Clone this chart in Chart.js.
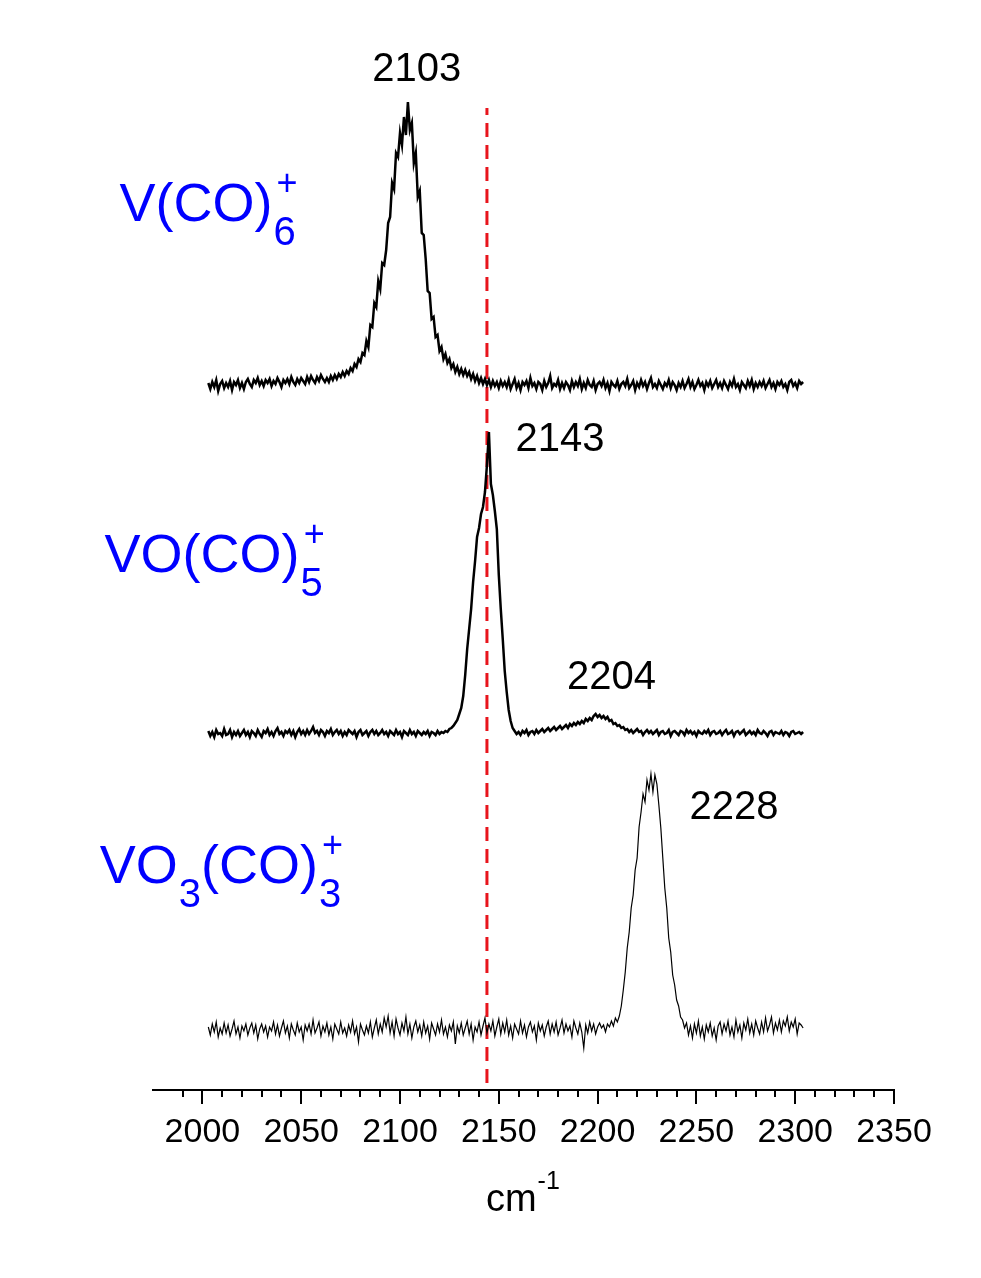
<!DOCTYPE html>
<html>
<head>
<meta charset="utf-8">
<title>IR spectra of vanadium carbonyl cations</title>
<script src="https://cdn.jsdelivr.net/npm/chart.js@4.4.0/dist/chart.umd.min.js"></script>
<style>
  html, body { margin: 0; padding: 0; background: #fff; }
  #wrap { width: 981px; height: 1278px; position: relative; }
</style>
</head>
<body>
<div id="wrap"><canvas id="irChart"></canvas></div>
<script>
// spectra are sampled every 1 cm-1, first point at 2003 cm-1
const startWavenumber = 2003;

// V(CO)6+
const v6Intensity = [
  2, -4, 3, -2, 5, -6, 1, 4, -3, 2,
  -2, 4, -5, 3, 0, 5, -3, 2, -4, 3,
  6, 1, -2, 5, 2, 7, 0, 4, -1, 5,
  2, 6, -1, 4, 1, 7, 3, -2, 5, 2,
  6, 1, 8, 3, 0, 6, 2, 7, 4, 1,
  8, 3, 9, 5, 2, 8, 4, 10, 6, 3,
  7, 3, 9, 5, 10, 6, 11, 8, 13, 9,
  14, 11, 17, 14, 21, 18, 26, 23, 32, 30,
  44, 38, 60, 58, 82, 78, 104, 96, 122, 120,
  135, 162, 168, 202, 196, 232, 228, 252, 240, 268,
  250, 283, 255, 262, 222, 232, 188, 194, 152, 150,
  126, 94, 92, 66, 68, 48, 50, 34, 38, 26,
  31, 22, 26, 17, 21, 13, 18, 11, 16, 10,
  15, 9, 13, 6, 11, 4, 9, 2, 7, 1,
  6, 0, 5, -2, 4, -1, 3, -3, 4, -1,
  3, -2, 5, -4, 1, 6, -3, 2, -5, 3,
  0, 4, -3, 7, -1, 2, -4, 3, 1, -5,
  4, -2, 2, 9, -3, 1, -1, 5, -4, 2,
  -3, 3, 0, -5, 4, -2, 3, -1, 6, -4,
  2, -3, 5, 0, -2, 4, -5, 1, 3, -1,
  5, -3, 2, -6, 3, 0, -2, 4, -4, 1,
  3, -1, 6, -3, 0, 4, -5, 2, -2, 5,
  -1, 3, -4, 2, 7, -2, 1, -3, 4, 0,
  -4, 2, -1, 5, -3, 3, 0, -5, 2, -2,
  4, -3, 1, 6, -2, 3, -4, 0, 5, -1,
  2, -5, 3, -1, 4, -3, 1, 5, -2, 2,
  -3, 4, 0, -4, 3, -1, 6, -2, 1, -5,
  3, 0, -3, 4, -1, 5, -4, 2, -2, 3,
  -1, 4, -3, 1, 5, -2, 2, -4, 3, 0,
  4, -2, 1, -5, 3, 5, -1, 2, -3, 4,
  1, 3
];

// VO(CO)5+
const vo5Intensity = [
  2, -3, 1, -4, 3, -1, 0, -3, 4, -2,
  -1, 3, -4, 1, -2, 2, -3, 0, 3, -2,
  1, -4, 2, 0, -3, 3, -1, -4, 2, 0,
  4, -2, 1, -3, 2, 5, -1, 1, -3, 2,
  0, 3, -2, 2, -4, 1, 4, -1, 2, -2,
  3, -1, 2, 6, 0, 2, -2, 3, 1, -3,
  2, 0, 4, -2, 1, 3, -1, 2, -3, 1,
  -2, 3, 1, -1, 2, -4, 1, 3, -2, 0,
  2, -3, 1, 3, -1, 2, -2, 0, 3, -1,
  1, -3, 2, 0, -2, 3, -1, 1, -4, 2,
  0, -2, 3, -1, 1, -3, 2, 0, -2, 1,
  -1, 2, -3, 1, 0, -2, 2, -1, 1, 0,
  2, 1, 4, 5, 7, 10, 13, 19, 25, 37,
  58, 84, 104, 124, 151, 172, 196, 205, 219, 226,
  241, 268, 301, 249, 238, 222, 204, 158, 124, 94,
  62, 41, 23, 12, 5, 2, -1, 1, -2, 2,
  0, 3, -2, 1, 2, -1, 3, 0, 2, 4,
  1, 3, 5, 2, 4, 6, 3, 5, 7, 4,
  6, 8, 5, 9, 7, 10, 8, 11, 9, 12,
  10, 14, 12, 15, 13, 17, 19, 16, 18, 15,
  17, 14, 16, 12, 13, 9, 10, 7, 8, 5,
  6, 3, 4, 1, 3, 0, 2, 4, 1, 2,
  -2, 1, 3, 0, 2, -1, 1, 3, -2, 1,
  2, -1, 0, 3, -3, 1, 2, 0, -2, 2,
  1, -2, 3, 0, 2, -1, 1, -3, 2, 0,
  -1, 2, 0, 3, -2, 1, 2, -1, 0, 2,
  -2, 1, 3, -1, 0, 2, -3, 1, 2, -1,
  1, 3, -2, 0, 2, -1, 1, -2, 3, 0,
  -1, 2, 0, -3, 1, 2, -2, 1, 0, -1,
  2, -2, 1, 0, -3, 1, 2, -1, 0, 1,
  -1, 1
];

// VO3(CO)3+
const vo3Intensity = [
  3, -5, 6, -2, 8, -7, 2, -4, 7, -3,
  5, -6, 1, 9, -4, 3, -8, 4, -1, 6,
  -5, 2, 7, -3, 5, -9, 1, 6, -2, 4,
  -7, 3, -1, 8, -4, 5, -6, 2, 9, -3,
  4, -8, 6, 0, -5, 7, -2, 3, -10, 5,
  -1, 6, -4, 10, -3, 2, 8, -6, 4, -2,
  7, -5, 3, -9, 6, 1, -4, 8, -3, 2,
  -6, 5, -2, 9, -4, 3, -12, 6, 0, -5,
  4, -3, 8, -7, 2, 10, -4, 6, -2, 12,
  3, 14, -3, 8, -6, 11, 2, -5, 7, -1,
  13, -4, 6, -8, 3, 9, -2, 5, -6, 8,
  -3, 4, -9, 7, 1, -5, 6, -2, 10, -4,
  3, -7, 5, -1, 8, -14, 4, -3, 7, -5,
  2, 9, -4, 6, -10, 3, -2, 8, -5, 4,
  12, -3, 6, -1, 9, -6, 3, 11, -4, 7,
  -2, 10, -5, 4, -8, 6, 1, -4, 9, -3,
  5, -7, 3, 8, -2, 4, -10, 7, -1, 5,
  -6, 3, 9, -4, 6, -2, 8, -5, 2, 10,
  -3, 6, -1, 4, -7, 9, 2, -4, 7, -2,
  -18, 5, -3, 8, -1, 6, -4, 3, 7, 2,
  5, -2, 6, 3, 9, 4, 12, 8, 14, 24,
  40, 58, 82, 98, 122, 135, 160, 172, 203, 218,
  236, 228, 250, 240, 256, 238, 255, 246, 225, 202,
  172, 142, 122, 92, 78, 55, 45, 30, 24, 13,
  10, 2, 7, -5, 4, -8, 6, -3, 9, -6,
  3, -9, 5, -2, 7, -6, 2, -10, 4, 8,
  -4, 6, -1, 9, -5, 3, -7, 10, -2, 5,
  -8, 7, 0, 11, -3, 6, -5, 9, 2, -4,
  8, -2, 12, -1, 5, 13, -3, 7, 0, 10,
  -2, 9, 4, 13, -1, 8, 3, 11, -4, 7,
  5, 2
];

const speciesNames = ['V(CO)6+', 'VO(CO)5+', 'VO3(CO)3+'];
const peakLabels = ['2103', '2143', '2204', '2228'];
const freeCO = 2144;
const xTickLabels = [2000, 2050, 2100, 2150, 2200, 2250, 2300, 2350];

// vertical stacking of the traces (axis units)
const traceOffsets = [705, 357, 60];

const BLUE = '#0000ff';
const FONT = '"Liberation Sans", Arial, sans-serif';

function toPoints(values, offset) {
    return values.map((v, i) => ({ x: startWavenumber + i, y: v + offset }));
}

// formula pieces: main text, subscript, optional superscript
const speciesParts = [
    [['V(CO)', 'main'], ['6', 'sub', '+']],
    [['VO(CO)', 'main'], ['5', 'sub', '+']],
    [['VO', 'main'], ['3', 'sub'], ['(CO)', 'main'], ['3', 'sub', '+']]
];
const speciesAnchors = [{ x: 1958, y: 869 }, { x: 1950.5, y: 518 }, { x: 1948, y: 207 }];
const peakAnchors = [{ x: 2108.5, y: 1020 }, { x: 2181, y: 650 }, { x: 2207, y: 412 }, { x: 2269, y: 282 }];

const annotations = {
    id: 'annotations',
    afterDraw(chart) {
        const { ctx, scales: { x, y }, chartArea } = chart;
        ctx.save();

        // tick marks: long every 50, short every 10
        ctx.strokeStyle = '#000';
        ctx.lineWidth = 2;
        x.ticks.forEach(t => {
            if (Math.abs(t.value % 10) > 1e-6) return;
            const px = Math.round(x.getPixelForValue(t.value));
            const len = t.value % 50 === 0 ? 14 : 7;
            ctx.beginPath();
            ctx.moveTo(px, chartArea.bottom);
            ctx.lineTo(px, chartArea.bottom + len);
            ctx.stroke();
        });

        // peak positions
        ctx.fillStyle = '#000';
        ctx.font = '40px ' + FONT;
        ctx.textAlign = 'center';
        ctx.textBaseline = 'middle';
        peakLabels.forEach((txt, i) => {
            ctx.fillText(txt, x.getPixelForValue(peakAnchors[i].x), y.getPixelForValue(peakAnchors[i].y));
        });

        // species formulas
        ctx.fillStyle = BLUE;
        ctx.textAlign = 'left';
        ctx.textBaseline = 'alphabetic';
        speciesParts.forEach((parts, i) => {
            let px = x.getPixelForValue(speciesAnchors[i].x);
            const base = y.getPixelForValue(speciesAnchors[i].y);
            parts.forEach(([txt, kind, sup]) => {
                if (kind === 'main') {
                    ctx.font = '54px ' + FONT;
                    ctx.fillText(txt, px, base);
                    px += ctx.measureText(txt).width;
                } else {
                    ctx.font = '40px ' + FONT;
                    const w = ctx.measureText(txt).width;
                    ctx.fillText(txt, px + 1, base + 24);
                    if (sup) {
                        ctx.font = '36px ' + FONT;
                        const sw = ctx.measureText(sup).width;
                        ctx.fillText(sup, px + 1 + w - sw + 2, base - 26);
                    }
                    px += w + 1;
                }
            });
        });

        // axis title cm-1
        ctx.fillStyle = '#000';
        ctx.font = '38px ' + FONT;
        const cx = x.getPixelForValue(2143.5);
        const cy = y.getPixelForValue(-121);
        ctx.fillText('cm', cx, cy);
        const cw = ctx.measureText('cm').width;
        ctx.font = '25px ' + FONT;
        ctx.fillText('-1', cx + cw + 1, cy - 22);

        ctx.restore();
    }
};

const datasets = [v6Intensity, vo5Intensity, vo3Intensity].map((vals, i) => ({
    label: speciesNames[i],
    data: toPoints(vals, traceOffsets[i]),
    showLine: true,
    borderColor: '#000',
    borderWidth: i === 2 ? 1.2 : 2.5,
    pointRadius: 0,
    tension: 0
}));

datasets.push({
    label: 'free CO',
    data: [{ x: freeCO, y: 7 }, { x: freeCO, y: 982 }],
    showLine: true,
    borderColor: '#e8141c',
    borderWidth: 3,
    borderDash: [14, 8],
    pointRadius: 0
});

new Chart(document.getElementById('irChart').getContext('2d'), {
    type: 'scatter',
    data: { datasets },
    options: {
        responsive: true,
        maintainAspectRatio: false,
        animation: false,
        layout: { padding: { left: 153, right: 87, top: 40, bottom: 0 } },
        plugins: { legend: { display: false }, tooltip: { enabled: false } },
        scales: {
            x: {
                type: 'linear',
                min: 1975,
                max: 2350,
                afterFit: scale => { scale.height = 188; },
                border: { display: true, color: '#000', width: 2 },
                grid: { display: false, drawTicks: false },
                ticks: {
                    stepSize: 10,
                    autoSkip: false,
                    maxRotation: 0,
                    padding: 22,
                    color: '#000',
                    font: { family: FONT, size: 34 },
                    callback: v => xTickLabels.includes(v) ? String(v) : ''
                }
            },
            y: { display: false, min: 0, max: 1050 }
        }
    },
    plugins: [annotations]
});
</script>
</body>
</html>
